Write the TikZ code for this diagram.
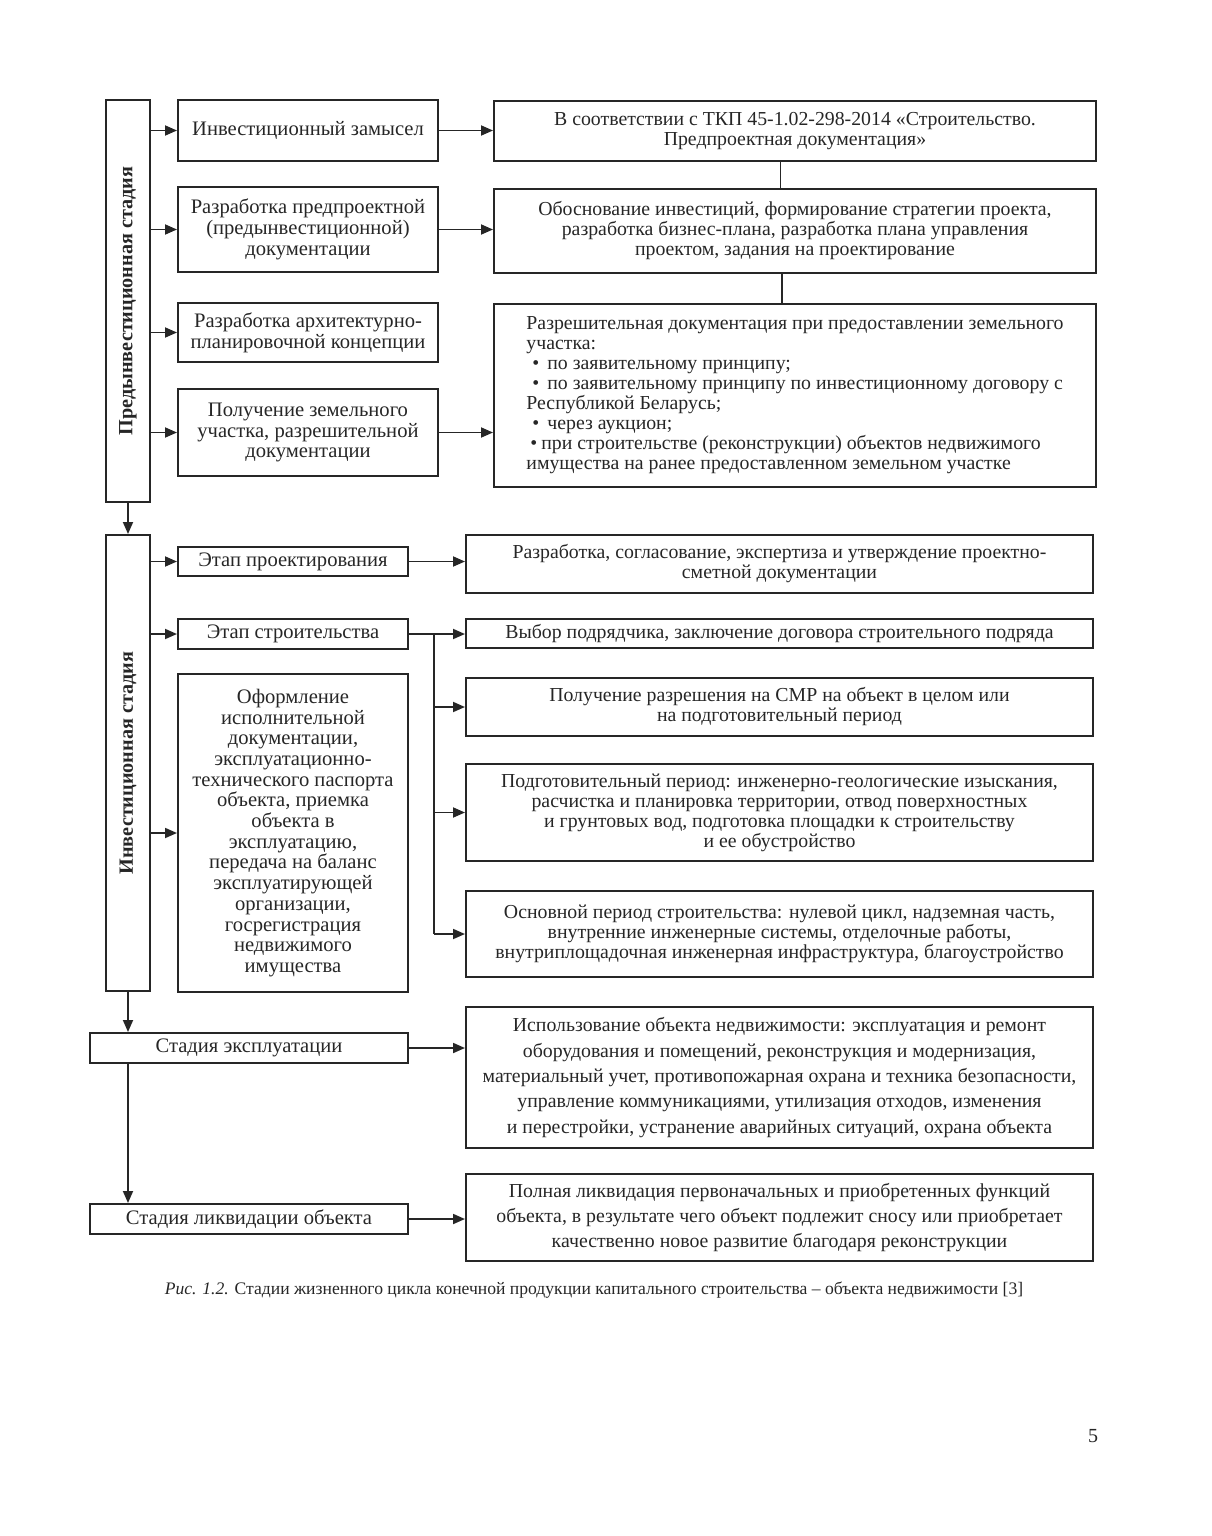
\documentclass[tikz,border=0pt]{standalone}
\usepackage{fontspec}
\setmainfont{Liberation Serif}
\usetikzlibrary{arrows.meta,calc}
\definecolor{ink}{HTML}{262626}
\newcommand{\blk}[6][]{%
  % style, name, left, top, right, bottom (in px of the page), text follows
  \node[blkbox,#1,minimum width={(#5-#3)*0.5pt},minimum height={(#6-#4)*0.5pt}]
    (#2) at ({(#3+#5)/2},{(#4+#6)/2})}

\begin{document}
\begin{tikzpicture}[x=0.5pt,y=-0.5pt,
  blkbox/.style={draw=ink,line width=1pt,inner sep=2pt,align=center,text=ink},
  lft/.style={font={\fontsize{10.3}{10.35}\selectfont}},
  rgt/.style={font={\fontsize{9.9}{10}\selectfont}},
  wide/.style={font={\fontsize{9.9}{12.7}\selectfont}},
  stage/.style={rotate=90,text=ink,font={\fontsize{10.1}{12}\selectfont\bfseries}},
  arr/.style={draw=ink,line width=0.9pt,-{Triangle[length=6pt,width=5pt]}},
  lnk/.style={draw=ink,line width=0.9pt}]
  \useasboundingbox (0,0) rectangle (1211,1536);

  % pre-investment stage
  \blk{pre}{106}{100}{150}{502} {};
  \node[stage] (preLbl) at (pre) {Предынвестиционная стадия};
  \blk[lft]{a1}{178}{100}{438}{161} {Инвестиционный замысел};
  \blk[lft]{a2}{178}{187}{438}{272} {Разработка предпроектной\\(предынвестиционной)\\документации};
  \blk[lft]{a3}{178}{303}{438}{362} {Разработка архитектурно-\\планировочной концепции};
  \blk[lft]{a4}{178}{389}{438}{476} {Получение земельного\\участка, разрешительной\\документации};
  \blk[rgt]{r1}{494}{101}{1096}{161} {В соответствии с ТКП 45-1.02-298-2014 «Строительство.\\Предпроектная документация»};
  \blk[rgt]{r2}{494}{189}{1096}{273} {Обоснование инвестиций, формирование стратегии проекта,\\разработка бизнес-плана, разработка плана управления\\проектом, задания на проектирование};
  \blk[rgt,align=left]{r3}{494}{304}{1096}{487} {Разрешительная документация при предоставлении земельного\\участка:\\
    \hspace{3pt}\textbullet\hspace{4pt}по заявительному принципу;\\
    \hspace{3pt}\textbullet\hspace{4pt}по заявительному принципу по инвестиционному договору с\\Республикой Беларусь;\\
    \hspace{3pt}\textbullet\hspace{4pt}через аукцион;\\
    \hspace{2pt}\textbullet\hspace{2pt}при строительстве (реконструкции) объектов недвижимого\\имущества на ранее предоставленном земельном участке};

  \foreach \n in {a1,a2,a3,a4}{\draw[arr] (pre.east |- \n) -- (\n.west);}
  \foreach \n/\m in {a1/r1,a2/r2,a4/r3}{\draw[arr] (\n.east) -- (\n.east -| \m.west);}
  \draw[lnk] ($(r1.south west)!0.476!(r1.south east)$) -- ($(r2.north west)!0.476!(r2.north east)$);
  \draw[lnk] ($(r2.south west)!0.479!(r2.south east)$) -- ($(r3.north west)!0.479!(r3.north east)$);

  % investment stage
  \blk{inv}{106}{535}{150}{991} {};
  \node[stage] (invLbl) at (inv) {Инвестиционная стадия};
  \blk[lft]{e1}{178}{547}{408}{576} {Этап проектирования};
  \blk[lft]{e2}{178}{619}{408}{649} {Этап строительства};
  \blk[lft]{e3}{178}{674}{408}{992} {Оформление\\исполнительной\\документации,\\эксплуатационно-\\технического паспорта\\объекта, приемка\\объекта в\\эксплуатацию,\\передача на баланс\\эксплуатирующей\\организации,\\госрегистрация\\недвижимого\\имущества};
  \blk[rgt]{p1}{466}{535}{1093}{593} {Разработка, согласование, экспертиза и утверждение проектно-\\сметной документации};
  \blk[rgt]{p2}{466}{619}{1093}{648} {Выбор подрядчика, заключение договора строительного подряда};
  \blk[rgt]{p3}{466}{678}{1093}{736} {Получение разрешения на СМР на объект в целом или\\на подготовительный период};
  \blk[rgt]{p4}{466}{764}{1093}{861} {Подготовительный период: инженерно-геологические изыскания,\\расчистка и планировка территории, отвод поверхностных\\и грунтовых вод, подготовка площадки к строительству\\и ее обустройство};
  \blk[rgt]{p5}{466}{891}{1093}{977} {Основной период строительства: нулевой цикл, надземная часть,\\внутренние инженерные системы, отделочные работы,\\внутриплощадочная инженерная инфраструктура, благоустройство};

  \draw[arr] (pre.south) -- (inv.north);
  \foreach \n in {e1,e2,e3}{\draw[arr] (inv.east |- \n) -- (\n.west);}
  \draw[arr] (e1.east) -- (e1.east -| p1.west);
  \draw[arr] (e2.east) -- (e2.east -| p2.west);
  \coordinate (br) at (434,634);
  \draw[lnk] (br) -- (br |- p5);
  \foreach \n in {p3,p4,p5}{\draw[arr] (br |- \n) -- (\n.west);}

  % operation and liquidation
  \blk[lft]{st}{90}{1033}{408}{1063} {Стадия эксплуатации};
  \blk[lft]{lq}{90}{1204}{408}{1234} {Стадия ликвидации объекта};
  \blk[wide]{ex}{466}{1007}{1093}{1148} {Использование объекта недвижимости: эксплуатация и ремонт\\оборудования и помещений, реконструкция и модернизация,\\материальный учет, противопожарная охрана и техника безопасности,\\управление коммуникациями, утилизация отходов, изменения\\и перестройки, устранение аварийных ситуаций, охрана объекта};
  \blk[wide]{ld}{466}{1174}{1093}{1261} {Полная ликвидация первоначальных и приобретенных функций\\объекта, в результате чего объект подлежит сносу или приобретает\\качественно новое развитие благодаря реконструкции};

  \draw[arr] (inv.south) -- (inv.south |- st.north);
  \draw[arr] (inv.south |- st.south) -- (inv.south |- lq.north);
  \draw[arr] (st.east) -- (st.east -| ex.west);
  \draw[arr] (lq.east) -- (lq.east -| ld.west);

  \node[text=ink,font={\fontsize{8.8}{10}\selectfont}] (cap) at (594,1290)
    {\textit{Рис. 1.2.} Стадии жизненного цикла конечной продукции капитального строительства – объекта недвижимости [3]};
  \node[text=ink,font={\fontsize{10}{12}\selectfont}] (pg) at (1093,1436) {5};
\end{tikzpicture}
\end{document}
